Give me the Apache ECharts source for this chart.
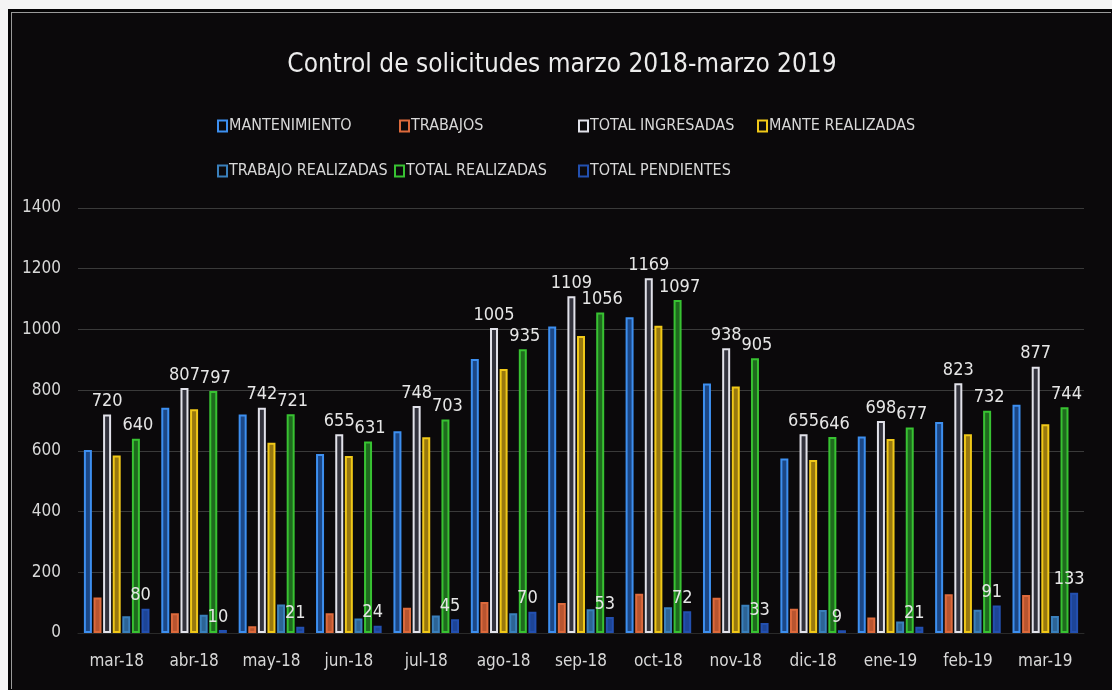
<!DOCTYPE html>
<html>
<head>
<meta charset="utf-8">
<script src="https://cdn.jsdelivr.net/npm/echarts@6/dist/echarts.min.js"></script>
<style>
  html, body { margin: 0; padding: 0; background: #f4f4f4; }
  #frame { position: absolute; left: 8px; top: 9px; width: 1104px; height: 681px; background: #050405; }
  #chart1 { position: absolute; left: 12px; top: 13px; width: 1100px; height: 677px;
            box-shadow: -1px -1px 0 0 #9a9a9a; }
</style>
</head>
<body>
<div id="frame"></div>
<div id="chart1"></div>
<script>
var categories = ['mar-18', 'abr-18', 'may-18', 'jun-18', 'jul-18', 'ago-18', 'sep-18',
                  'oct-18', 'nov-18', 'dic-18', 'ene-19', 'feb-19', 'mar-19'];
var mantenimiento     = [603, 742, 720, 590, 665, 903, 1010, 1040, 822, 575, 647, 695, 752];
var trabajos          = [117, 65, 22, 65, 83, 102, 99, 129, 116, 80, 51, 128, 125];
var totalIngresadas   = [720, 807, 742, 655, 748, 1005, 1109, 1169, 938, 655, 698, 823, 877];
var manteRealizadas   = [585, 737, 627, 583, 645, 870, 978, 1012, 812, 570, 639, 655, 688];
var trabajoRealizadas = [55, 60, 94, 48, 58, 65, 78, 85, 93, 76, 38, 77, 56];
var totalRealizadas   = [640, 797, 721, 631, 703, 935, 1056, 1097, 905, 646, 677, 732, 744];
var totalPendientes   = [80, 10, 21, 24, 45, 70, 53, 72, 33, 9, 21, 91, 133];
var yTicks = [0, 200, 400, 600, 800, 1000, 1200, 1400];

var font = "'Liberation Sans Narrow', 'DejaVu Sans Condensed', 'Liberation Sans', sans-serif";
var txt = '#d8d8d8';

var names = ['MANTENIMIENTO', 'TRABAJOS', 'TOTAL INGRESADAS', 'MANTE REALIZADAS',
             'TRABAJO REALIZADAS', 'TOTAL REALIZADAS', 'TOTAL PENDIENTES'];
var values = [mantenimiento, trabajos, totalIngresadas, manteRealizadas,
              trabajoRealizadas, totalRealizadas, totalPendientes];
var borders = ['#3d8ff0', '#dd6a3c', '#e2e2ea', '#f0c818', '#3a80bc', '#38c232', '#2350b0'];
var fills   = ['#1c4785', '#b85530', '#33333d', '#98780f', '#2d6496', '#1f6a1e', '#1d4596'];
var showLabel = [false, false, true, false, false, true, true];
var labelOffset = [[0, 0], [0, 0], [0, 0], [0, 0], [0, 0], [2, 0], [-5, 0]];

// legend layout (Excel style grid)
var legendPos = [[200, 99], [382, 99], [561, 99], [740, 99], [200, 144], [377, 144], [561, 144]];

var myChart = echarts.init(document.getElementById('chart1'));

var series = [];
var legends = [];
for (var i = 0; i < names.length; i++) {
    series.push({
        name: names[i],
        type: 'bar',
        data: values[i],
        barWidth: 8,
        barGap: '20%',
        itemStyle: {
            color: fills[i],
            borderColor: borders[i],
            borderWidth: 2
        },
        label: {
            show: showLabel[i],
            position: 'top',
            distance: 4,
            offset: labelOffset[i],
            color: '#e6e6e6',
            fontFamily: font,
            fontSize: 18
        },
        animation: false
    });
    legends.push({
        data: [names[i]],
        left: legendPos[i][0],
        top: legendPos[i][1],
        icon: 'rect',
        itemWidth: 9,
        itemHeight: 11,
        itemStyle: {
            color: 'transparent',
            borderColor: borders[i],
            borderWidth: 2
        },
        textStyle: {
            color: txt,
            fontFamily: font,
            fontSize: 16,
            lineHeight: 18,
            padding: [0, 0, 0, -3]
        }
    });
}

option = {
    backgroundColor: '#0b090b',
    title: {
        text: 'Control de solicitudes marzo 2018-marzo 2019',
        left: 'center',
        top: 34,
        padding: [5, 21, 5, 5],
        textStyle: {
            color: '#ececec',
            fontFamily: font,
            fontWeight: 'normal',
            fontSize: 26
        }
    },
    legend: legends,
    grid: {
        left: 66,
        right: 28,
        top: 195,
        bottom: 57
    },
    xAxis: {
        type: 'category',
        data: categories,
        axisTick: { show: false },
        axisLine: { show: true, lineStyle: { color: '#2a2a2a' } },
        axisLabel: {
            interval: 0,
            color: txt,
            fontFamily: font,
            fontSize: 17,
            margin: 20
        }
    },
    yAxis: {
        type: 'value',
        min: yTicks[0],
        max: yTicks[yTicks.length - 1],
        interval: yTicks[1] - yTicks[0],
        axisLine: { show: false },
        axisTick: { show: false },
        splitLine: { lineStyle: { color: '#3a3a3a' } },
        axisLabel: {
            formatter: function (v) { return String(v); },
            color: txt,
            fontFamily: font,
            fontSize: 17,
            margin: 17
        }
    },
    series: series
};
myChart.setOption(option);
</script>
</body>
</html>
